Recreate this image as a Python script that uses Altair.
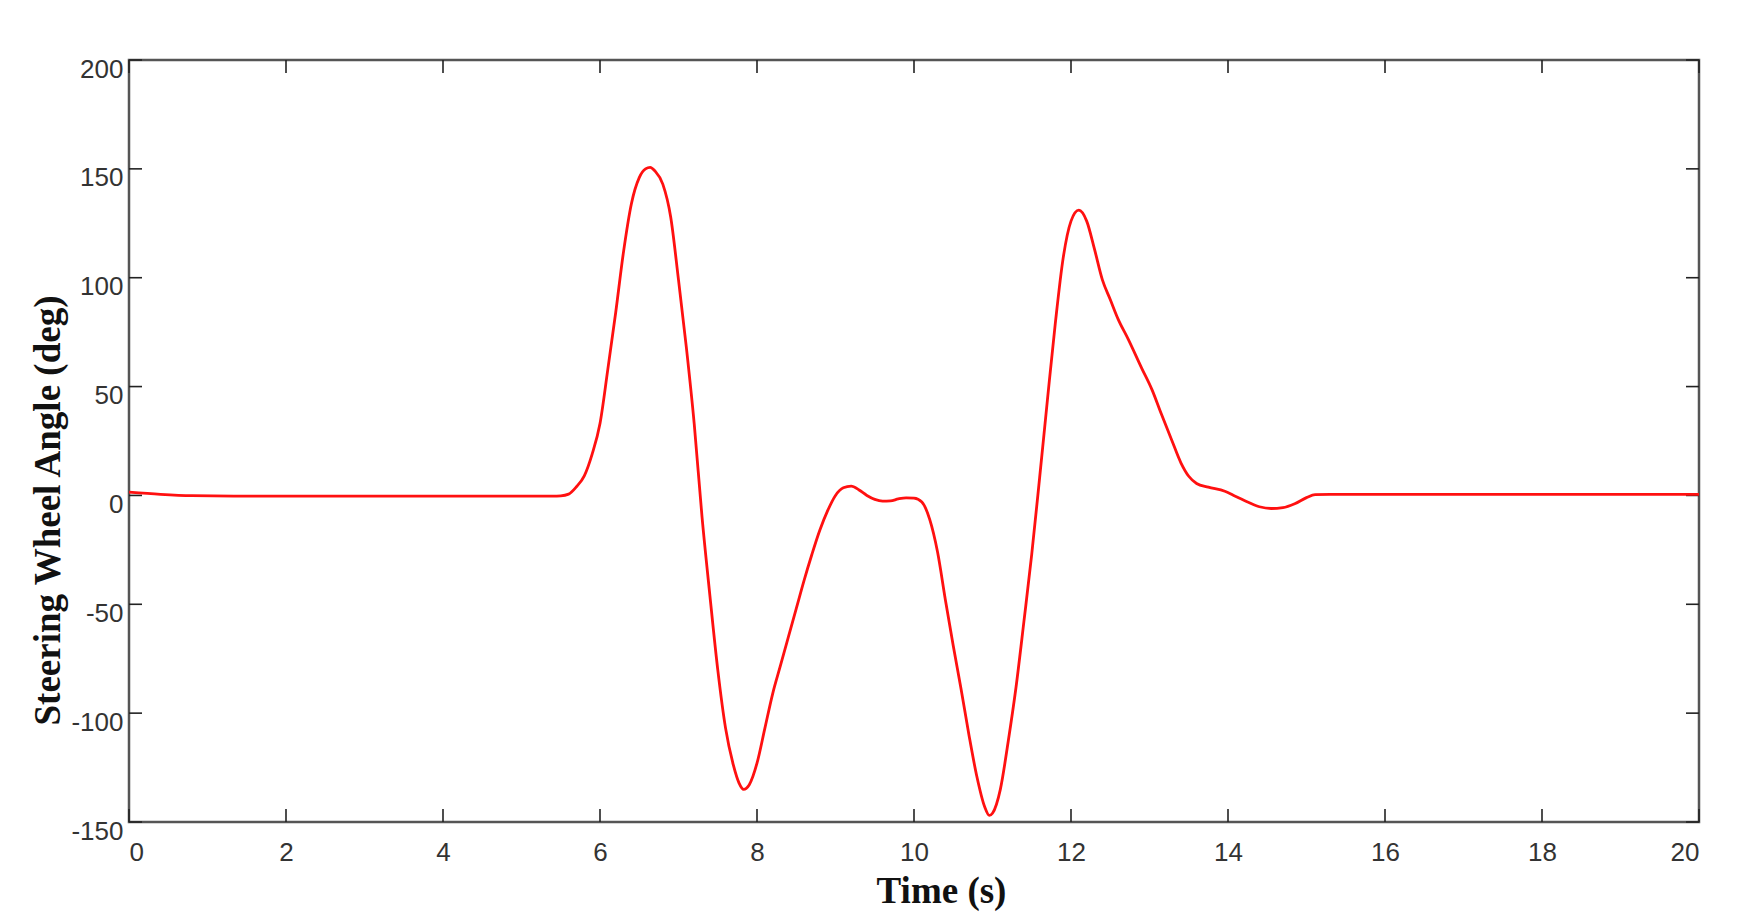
import altair as alt
import pandas as pd

# Data
time_s = [0.0, 0.4, 0.8, 1.5, 5.4, 5.5, 5.6, 5.7, 5.8, 5.9, 6.0, 6.1, 6.2, 6.3, 6.4,
          6.5, 6.58, 6.64, 6.7, 6.8, 6.9, 7.0, 7.1, 7.2, 7.3, 7.4, 7.5, 7.6, 7.7, 7.77,
          7.83, 7.9, 8.0, 8.1, 8.2, 8.3, 8.4, 8.5, 8.6, 8.7, 8.8, 8.9, 9.0, 9.1, 9.2, 9.3,
          9.4, 9.5, 9.6, 9.7, 9.8, 9.9, 10.0, 10.1, 10.2, 10.3, 10.4, 10.5, 10.6, 10.7,
          10.8, 10.9, 10.96, 11.0, 11.1, 11.2, 11.3, 11.4, 11.5, 11.6, 11.7, 11.8, 11.9,
          12.0, 12.1, 12.2, 12.3, 12.4, 12.5, 12.6, 12.73, 12.9, 13.03, 13.15, 13.28,
          13.4, 13.5, 13.6, 13.75, 13.96, 14.1, 14.25, 14.4, 14.55, 14.7, 14.85, 15.0,
          15.11, 15.3, 20.0]
angle_deg = [1.5, 0.5, -0.1, -0.3, -0.3, -0.2, 0.6, 4.0, 9.0, 19.0, 33.0, 58.0, 84.0, 112.0, 134.0,
             146.0, 150.0, 150.7, 149.0, 143.0, 128.0, 99.0, 68.0, 33.0, -10.0, -46.0, -80.0, -107.0, -124.0, -132.0,
             -135.0, -133.0, -123.0, -107.0, -91.0, -78.0, -65.0, -52.0, -39.0, -27.0, -16.0, -7.0, 0.0, 3.5, 4.3, 2.5,
             0.0, -1.8, -2.6, -2.5, -1.6, -1.1, -1.2, -3.0, -11.0, -26.0, -48.0, -69.0, -89.0, -110.0,
             -129.0, -143.0, -147.0, -146.0, -135.0, -113.0, -88.0, -58.0, -27.0, 8.0, 44.0, 79.0, 109.0,
             126.0, 131.0, 126.0, 113.0, 99.0, 90.0, 81.0, 71.7, 58.5, 48.7, 37.5, 25.7,
             15.0, 8.8, 5.5, 3.8, 1.9, -0.5, -3.0, -5.2, -6.0, -5.6, -3.8, -1.0,
             0.4, 0.5, 0.5]
x_ticks = [0, 2, 4, 6, 8, 10, 12, 14, 16, 18, 20]
y_ticks = [-150, -100, -50, 0, 50, 100, 150, 200]

df = pd.DataFrame({"t": time_s, "v": angle_deg})
xt = pd.DataFrame({"t": x_ticks})
yt = pd.DataFrame({"v": y_ticks})

W, H = 1570, 762
TL = 13

xs = alt.Scale(domain=[0, 20], nice=False, zero=False)
ys = alt.Scale(domain=[-150, 200], nice=False, zero=False)

xaxis = alt.Axis(values=x_ticks, title="Time (s)", grid=False, domain=False, ticks=False,
                 tickSize=0, labelPadding=17, labelFont="Liberation Sans", labelFontSize=26,
                 labelColor="#333333", labelExpr="toString(datum.value)",
                 titleFont="Liberation Serif", titleFontWeight="bold",
                 titleFontSize=37, titleColor="#111111", titleX=812, titleY=80,
                 titleAlign="center", titleBaseline="alphabetic")
yaxis = alt.Axis(values=y_ticks, title="Steering Wheel Angle (deg)", grid=False, domain=False,
                 ticks=False, tickSize=0, labelPadding=6, labelOffset=9,
                 labelFont="Liberation Sans", labelFontSize=26, labelColor="#333333",
                 labelExpr="toString(datum.value)",
                 titleFont="Liberation Serif", titleFontWeight="bold", titleFontSize=37,
                 titleColor="#111111", titleAngle=270, titleX=-70, titleY=450,
                 titleAlign="center", titleBaseline="alphabetic")

X = alt.X("t:Q", scale=xs, axis=xaxis)
Y = alt.Y("v:Q", scale=ys, axis=yaxis)

line = alt.Chart(df).mark_line(color="#ff1010", strokeWidth=2.8, interpolate="monotone").encode(
    x=X, y=Y
)

tick_style = dict(color="#222222", strokeWidth=1.6)
xtick_b = alt.Chart(xt).mark_rule(**tick_style).encode(x=X, y=alt.value(H), y2=alt.value(H - TL))
xtick_t = alt.Chart(xt).mark_rule(**tick_style).encode(x=X, y=alt.value(0), y2=alt.value(TL))
ytick_l = alt.Chart(yt).mark_rule(**tick_style).encode(y=Y, x=alt.value(0), x2=alt.value(TL))
ytick_r = alt.Chart(yt).mark_rule(**tick_style).encode(y=Y, x=alt.value(W), x2=alt.value(W - TL))

chart = alt.layer(xtick_b, xtick_t, ytick_l, ytick_r, line).properties(
    width=W, height=H,
    autosize=alt.AutoSizeParams(type="none"),
    padding={"left": 121, "top": 52, "right": 45, "bottom": 90},
    background="white",
).configure_view(stroke="#555555", strokeWidth=2.5)

chart.save("out.html", embed_options={"renderer": "svg", "actions": False})
